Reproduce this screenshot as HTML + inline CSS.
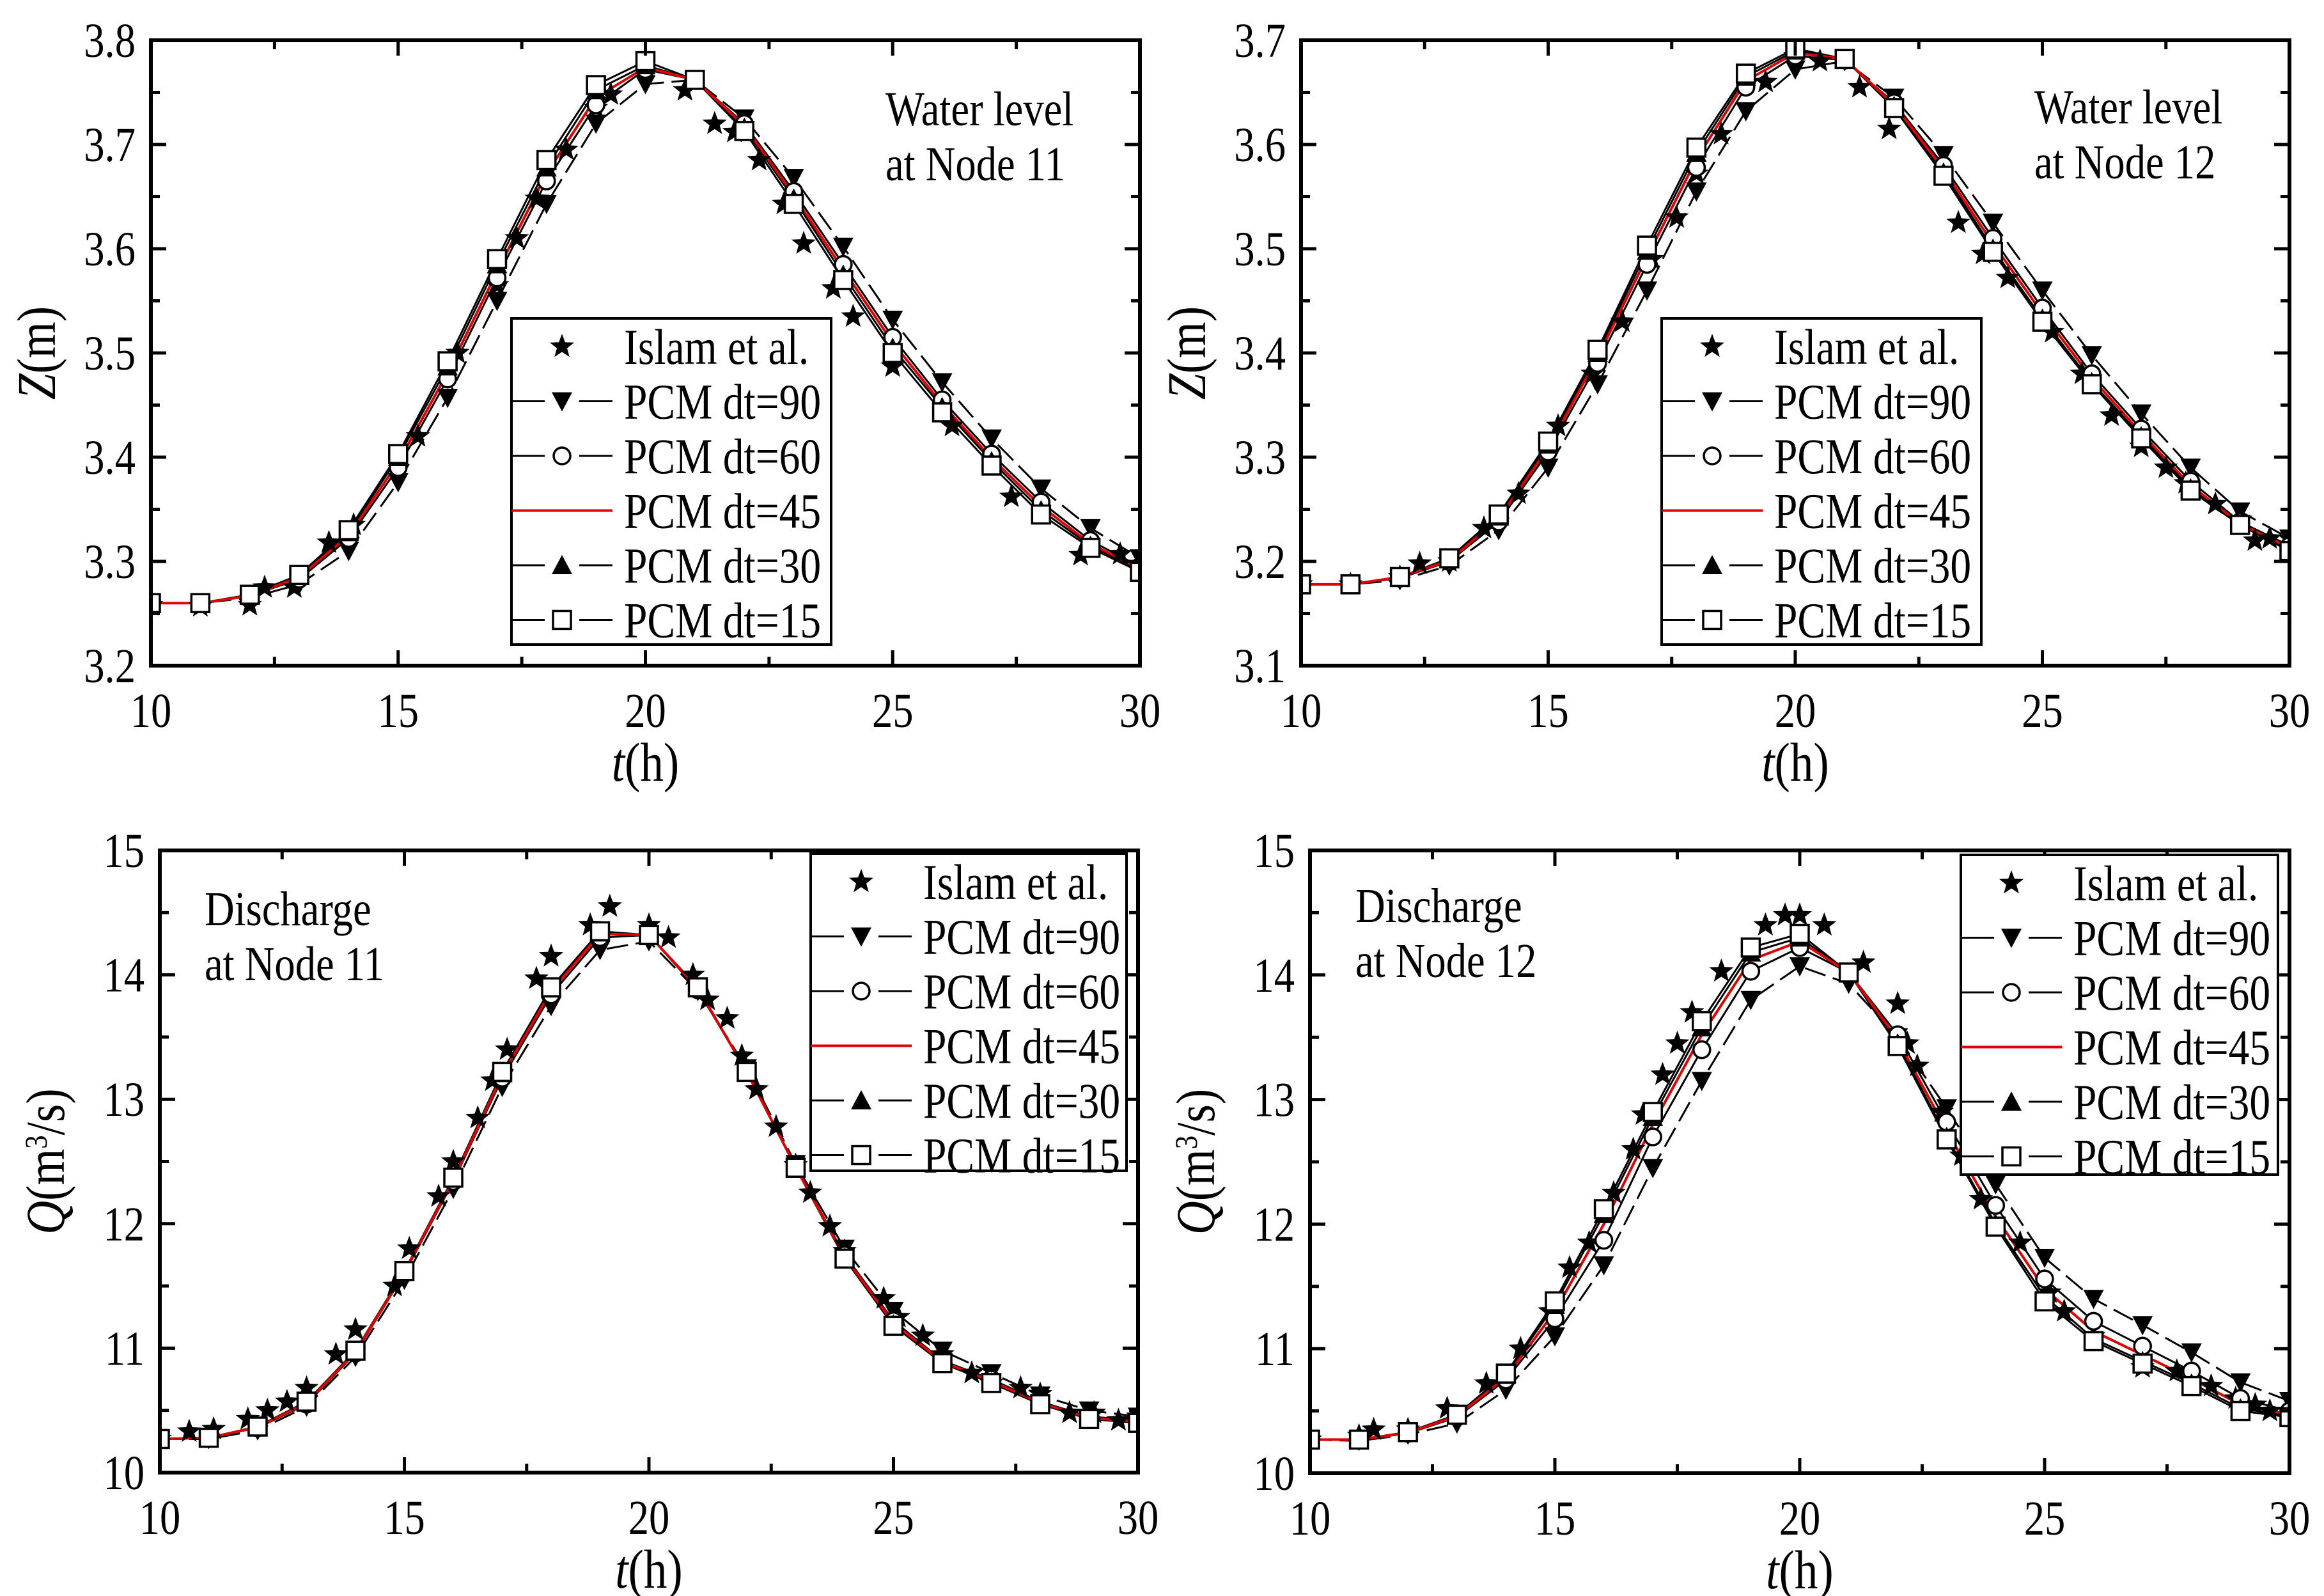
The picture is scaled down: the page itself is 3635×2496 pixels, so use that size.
<!DOCTYPE html>
<html><head><meta charset="utf-8"><style>
html,body{margin:0;padding:0;background:#fff}
svg{display:block}
text{font-family:"Liberation Serif",serif;fill:#000}
</style></head><body>
<svg id="fig" width="3635" height="2496" viewBox="0 0 3635 2496" xmlns="http://www.w3.org/2000/svg"></svg>
<script>
// ---- shared data ----
const hours = [10,11,12,13,14,15,16,17,18,19,20,21,22,23,24,25,26,27,28,29,30];
const xTicks = [10,15,20,25,30];

// Panel A: Water level Node 11
const zA_islamT = [10,11,12,12.3,12.9,13.6,14.1,15.4,16.2,17.0,17.4,17.8,18.4,19.0,19.3,20.8,21.4,21.8,22.3,22.8,23.2,23.8,24.2,25.0,26.2,27.4,28.8,29.6];
const zA_islamV = [3.258,3.257,3.258,3.275,3.275,3.318,3.335,3.42,3.50,3.565,3.61,3.648,3.695,3.735,3.748,3.752,3.72,3.712,3.685,3.643,3.605,3.562,3.535,3.487,3.43,3.362,3.306,3.307];
const zA_dt90 = [3.26,3.26,3.265,3.278,3.31,3.376,3.457,3.55,3.643,3.72,3.758,3.762,3.725,3.668,3.602,3.532,3.472,3.418,3.37,3.332,3.303];
const zA_dt60 = [3.26,3.26,3.267,3.283,3.322,3.39,3.475,3.572,3.665,3.738,3.772,3.762,3.72,3.655,3.585,3.515,3.455,3.403,3.357,3.32,3.295];
const zA_dt45 = [3.26,3.26,3.267,3.285,3.325,3.395,3.481,3.578,3.672,3.745,3.774,3.762,3.718,3.651,3.58,3.51,3.451,3.399,3.353,3.317,3.293];
const zA_dt30 = [3.26,3.26,3.268,3.286,3.328,3.4,3.487,3.585,3.678,3.752,3.776,3.762,3.716,3.648,3.575,3.505,3.448,3.396,3.349,3.315,3.292];
const zA_dt15 = [3.26,3.26,3.268,3.287,3.33,3.403,3.492,3.59,3.685,3.757,3.78,3.762,3.713,3.643,3.57,3.50,3.443,3.392,3.345,3.313,3.29];
const zA_yTicks = [3.2,3.3,3.4,3.5,3.6,3.7,3.8];

// Panel B: Water level Node 12
const zB_islamT = [10,11,12,12.4,13.0,13.7,14.4,15.2,15.9,16.5,17.1,17.6,18.0,18.5,19.4,20.0,20.5,21.3,21.9,23.3,23.8,24.3,25.2,25.8,26.4,27.0,27.5,27.9,28.5,29.0,29.3,29.6,30];
const zB_islamV = [3.178,3.178,3.185,3.198,3.2,3.232,3.265,3.33,3.38,3.43,3.49,3.53,3.572,3.61,3.66,3.685,3.68,3.655,3.615,3.525,3.495,3.472,3.42,3.38,3.34,3.31,3.29,3.275,3.255,3.24,3.22,3.222,3.222];
const zB_dt90 = [3.178,3.178,3.182,3.196,3.23,3.29,3.37,3.46,3.555,3.632,3.672,3.68,3.645,3.59,3.525,3.46,3.398,3.342,3.29,3.248,3.222];
const zB_dt60 = [3.178,3.178,3.184,3.2,3.238,3.305,3.39,3.485,3.578,3.655,3.685,3.681,3.64,3.58,3.51,3.443,3.38,3.327,3.277,3.238,3.215];
const zB_dt45 = [3.178,3.178,3.185,3.201,3.241,3.309,3.396,3.492,3.586,3.661,3.688,3.682,3.638,3.576,3.505,3.438,3.376,3.323,3.273,3.236,3.213];
const zB_dt30 = [3.178,3.178,3.185,3.202,3.243,3.312,3.4,3.498,3.592,3.665,3.69,3.682,3.637,3.573,3.5,3.433,3.372,3.32,3.27,3.235,3.212];
const zB_dt15 = [3.178,3.178,3.185,3.203,3.245,3.315,3.403,3.503,3.597,3.668,3.692,3.682,3.635,3.57,3.497,3.43,3.37,3.318,3.268,3.235,3.21];
const zB_yTicks = [3.1,3.2,3.3,3.4,3.5,3.6,3.7];

// Panel C: Discharge Node 11
const qC_islamT = [10,10.6,11.1,11.8,12.2,12.6,13.0,13.6,14.0,14.8,15.1,15.7,16.0,16.5,16.8,17.1,17.7,18.0,18.8,19.2,20.0,20.4,20.9,21.2,21.6,21.9,22.2,22.6,23.0,23.3,23.7,24.0,24.8,25.1,25.6,26.0,26.6,27.0,27.6,28.0,28.6,29.1,29.6,30];
const qC_islamV = [10.27,10.33,10.35,10.43,10.5,10.57,10.68,10.95,11.15,11.5,11.8,12.22,12.5,12.85,13.15,13.4,13.97,14.15,14.4,14.55,14.4,14.3,14.0,13.8,13.65,13.35,13.08,12.78,12.47,12.25,11.98,11.78,11.4,11.25,11.1,10.95,10.8,10.72,10.68,10.63,10.48,10.48,10.42,10.45];
const qC_dt90 = [10.27,10.27,10.34,10.53,10.93,11.55,12.28,13.1,13.75,14.2,14.27,13.87,13.25,12.48,11.8,11.3,10.98,10.8,10.62,10.5,10.45];
const qC_dt60 = [10.27,10.28,10.36,10.55,10.96,11.6,12.34,13.17,13.84,14.3,14.32,13.88,13.22,12.46,11.75,11.22,10.9,10.75,10.57,10.45,10.42];
const qC_dt45 = [10.27,10.28,10.365,10.56,10.97,11.61,12.355,13.195,13.87,14.33,14.32,13.89,13.22,12.455,11.735,11.2,10.89,10.735,10.56,10.44,10.41];
const qC_dt30 = [10.27,10.28,10.37,10.565,10.975,11.615,12.365,13.21,13.89,14.34,14.32,13.9,13.22,12.45,11.725,11.19,10.885,10.725,10.555,10.435,10.405];
const qC_dt15 = [10.27,10.28,10.37,10.57,10.98,11.62,12.37,13.22,13.9,14.35,14.32,13.9,13.22,12.45,11.72,11.18,10.88,10.72,10.55,10.43,10.4];
const qC_yTicks = [10,11,12,13,14,15];

// Panel D: Discharge Node 12
const qD_islamT = [10,11.0,11.3,12.0,12.8,13.6,14.3,14.9,15.3,15.7,16.2,16.6,16.8,17.2,17.5,17.8,18.4,19.3,19.7,20.0,20.5,21.3,22.0,22.2,22.4,22.9,23.3,23.7,24.5,25.1,25.4,26.0,27.0,27.7,28.4,28.9,29.3,29.6,30.0];
const qD_islamV = [10.27,10.3,10.35,10.35,10.52,10.72,11.0,11.3,11.65,11.85,12.25,12.6,12.88,13.2,13.45,13.7,14.03,14.4,14.48,14.48,14.4,14.1,13.77,13.45,13.27,12.9,12.55,12.2,11.85,11.45,11.3,11.1,10.85,10.82,10.7,10.6,10.55,10.5,10.5];
const qD_dt90 = [10.27,10.26,10.31,10.4,10.67,11.1,11.67,12.45,13.15,13.8,14.07,13.93,13.5,12.93,12.32,11.73,11.4,11.19,10.97,10.73,10.58];
const qD_dt60 = [10.27,10.27,10.32,10.45,10.75,11.24,11.87,12.7,13.4,14.03,14.22,14.02,13.52,12.82,12.15,11.56,11.22,11.02,10.82,10.6,10.5];
const qD_dt45 = [10.27,10.27,10.325,10.46,10.77,11.3,12.0,12.8,13.52,14.12,14.27,14.02,13.48,12.75,12.06,11.48,11.14,10.95,10.76,10.55,10.47];
const qD_dt30 = [10.27,10.27,10.33,10.47,10.79,11.35,12.08,12.86,13.58,14.18,14.3,14.02,13.45,12.7,12.0,11.42,11.08,10.9,10.72,10.52,10.46];
const qD_dt15 = [10.27,10.27,10.33,10.47,10.8,11.38,12.12,12.9,13.63,14.22,14.33,14.02,13.43,12.68,11.98,11.38,11.06,10.88,10.7,10.5,10.45];
const qD_yTicks = [10,11,12,13,14,15];

const legendLabels = ["Islam et al.","PCM dt=90","PCM dt=60","PCM dt=45","PCM dt=30","PCM dt=15"];

const NS="http://www.w3.org/2000/svg";
const svg=document.getElementById('fig');
function mk(tag,attrs,parent){const e=document.createElementNS(NS,tag);for(const k in attrs)e.setAttribute(k,attrs[k]);(parent||svg).appendChild(e);return e;}
// condensed tall text
function txt(parent,x,y,size,sx,anchor,html,rot){
  const tr=`translate(${x},${y})`+(rot?' rotate(-90)':'')+` scale(${sx},1)`;
  const t=mk('text',{x:0,y:0,'font-size':size,'text-anchor':anchor,transform:tr},parent);
  t.innerHTML=html;return t;
}

function starPts(cx,cy,R){const r=R*0.42;let p=[];for(let i=0;i<10;i++){const a=-Math.PI/2+i*Math.PI/5;const rr=i%2?r:R;p.push((cx+rr*Math.cos(a)).toFixed(1)+','+(cy+rr*Math.sin(a)).toFixed(1));}return p.join(' ');}
function marker(g,type,cx,cy){
  let e;
  if(type==='star'){e=mk('polygon',{points:starPts(cx,cy,20),fill:'#000'},g);}
  else if(type==='down'){e=mk('polygon',{points:`${cx-16},${cy-14} ${cx+16},${cy-14} ${cx},${cy+16}`,fill:'#000'},g);}
  else if(type==='up'){e=mk('polygon',{points:`${cx-16},${cy+14} ${cx+16},${cy+14} ${cx},${cy-16}`,fill:'#000'},g);}
  else if(type==='circle'){e=mk('circle',{cx:cx,cy:cy,r:13,fill:'#fff',stroke:'#000','stroke-width':3.5},g);}
  else if(type==='square'){e=mk('rect',{x:cx-14,y:cy-14,width:28,height:28,fill:'#fff',stroke:'#000','stroke-width':3.5},g);}
  return e;
}

function panel(cfg){
  const {L,R,T,B,ymin,ymax,yTicks,yMinor,islamT,islamV,series,name}=cfg;
  const g=mk('g',{});
  
  
  const X=v=>L+(v-10)/20*(R-L);
  const Y=v=>B-(v-ymin)/(ymax-ymin)*(B-T);
  const styles=[
    {d:series[0],type:'down',dash:'34,12',color:'#000',nm:'series-pcm-dt90'},
    {d:series[1],type:'circle',dash:null,color:'#000',nm:'series-pcm-dt60'},
    {d:series[3],type:'up',dash:null,color:'#000',nm:'series-pcm-dt30'},
    {d:series[4],type:'square',dash:null,color:'#000',nm:'series-pcm-dt15'},
    {d:series[2],type:null,dash:null,color:'#e00000',nm:'series-pcm-dt45'}
  ];
  styles.forEach(s=>{
    const pts=hours.map((h,i)=>X(h).toFixed(1)+','+Y(s.d[i]).toFixed(1)).join(' ');
    const a={points:pts,fill:'none',stroke:s.color,'stroke-width':s.type?3:4};
    if(s.dash)a['stroke-dasharray']=s.dash;
    const pl=mk('polyline',a,g);
    
    
  });
  islamT.forEach((t,i)=>{const m=marker(g,'star',X(t),Y(islamV[i]));
    
    });
  [styles[0],styles[1],styles[2],styles[3]].forEach(s=>{
    hours.forEach((h,i)=>{const m=marker(g,s.type,X(h),Y(s.d[i]));
      
      });
  });
  mk('rect',{x:L-60,y:T-60,width:57,height:B-T+120,fill:'#fff'},g);
  mk('rect',{x:R+3,y:T-60,width:60,height:B-T+120,fill:'#fff'},g);
  const fr=mk('rect',{x:L,y:T,width:R-L,height:B-T,fill:'none',stroke:'#000','stroke-width':6},g);
  
  
  for(let v=10;v<=30;v+=2.5){
    const maj=(v%5===0),len=maj?24:14,x=X(v);
    mk('line',{x1:x,y1:B,x2:x,y2:B-len,stroke:'#000','stroke-width':5},g);
    mk('line',{x1:x,y1:T,x2:x,y2:T+len,stroke:'#000','stroke-width':5},g);
  }
  xTicks.forEach(v=>{const t=txt(g,X(v),B+96,76,0.85,'middle',String(v));
    
    });
  for(let k=0;k<yTicks.length;k++){
    const v=yTicks[k];const y=Y(v);
    mk('line',{x1:L,y1:y,x2:L+24,y2:y,stroke:'#000','stroke-width':5},g);
    mk('line',{x1:R,y1:y,x2:R-24,y2:y,stroke:'#000','stroke-width':5},g);
    const t=txt(g,L-24,y+26,76,0.85,'end',cfg.fmt(v));
    
    
    if(k<yTicks.length-1){const ym=Y(v+yMinor);
      mk('line',{x1:L,y1:ym,x2:L+14,y2:ym,stroke:'#000','stroke-width':5},g);
      mk('line',{x1:R,y1:ym,x2:R-14,y2:ym,stroke:'#000','stroke-width':5},g);}
  }
  const xt=txt(g,(L+R)/2,B+180,86,0.85,'middle','<tspan font-style="italic">t</tspan>(h)');
  
  
  const yt=txt(g,L-150,(T+B)/2,86,0.85,'middle',cfg.ytitle,true);
  
  
  cfg.note.forEach((s,i)=>{const t=txt(g,cfg.noteX,cfg.noteY+i*86,76,0.85,'start',s);
    
    });
  const lg=mk('g',{},g);
  
  
  const lx=cfg.legX,ly=cfg.legY,lw=cfg.legW,lh=cfg.legH;
  mk('rect',{x:lx,y:ly,width:lw,height:lh,fill:'#fff',stroke:'#000','stroke-width':4},lg);
  const types=['star','down','circle',null,'up','square'];
  for(let i=0;i<6;i++){
    const cy=ly+44+i*85.5;
    const e=mk('g',{},lg);
    
    
    if(i===3){mk('line',{x1:lx,y1:cy,x2:lx+158,y2:cy,stroke:'#e00000','stroke-width':4},e);}
    else if(i>0){mk('line',{x1:lx,y1:cy,x2:lx+52,y2:cy,stroke:'#000','stroke-width':3},e);
      mk('line',{x1:lx+106,y1:cy,x2:lx+158,y2:cy,stroke:'#000','stroke-width':3},e);}
    if(types[i])marker(e,types[i],lx+79,cy);
    txt(e,lx+176,cy+27,78,0.84,'start',legendLabels[i]);
  }
}

panel({name:'panel-water-level-node11',L:236,R:1783,T:63,B:1041,ymin:3.2,ymax:3.8,yTicks:zA_yTicks,yMinor:0.05,
  islamT:zA_islamT,islamV:zA_islamV,series:[zA_dt90,zA_dt60,zA_dt45,zA_dt30,zA_dt15],fmt:v=>v.toFixed(1),
  ytitle:'<tspan font-style="italic">Z</tspan>(m)',note:['Water level','at Node 11'],noteX:1385,noteY:196,noteAnchor:'start',
  legX:800,legY:498,legW:500,legH:510});
panel({name:'panel-water-level-node12',L:2035,R:3581,T:63,B:1041,ymin:3.1,ymax:3.7,yTicks:zB_yTicks,yMinor:0.05,
  islamT:zB_islamT,islamV:zB_islamV,series:[zB_dt90,zB_dt60,zB_dt45,zB_dt30,zB_dt15],fmt:v=>v.toFixed(1),
  ytitle:'<tspan font-style="italic">Z</tspan>(m)',note:['Water level','at Node 12'],noteX:3182,noteY:193,noteAnchor:'start',
  legX:2599,legY:498,legW:500,legH:510});
panel({name:'panel-discharge-node11',L:250,R:1780,T:1330,B:2303,ymin:10,ymax:15,yTicks:qC_yTicks,yMinor:0.5,
  islamT:qC_islamT,islamV:qC_islamV,series:[qC_dt90,qC_dt60,qC_dt45,qC_dt30,qC_dt15],fmt:v=>String(v),
  ytitle:'<tspan font-style="italic">Q</tspan>(m<tspan baseline-shift="super" font-size="50">3</tspan>/s)',note:['Discharge','at Node 11'],noteX:320,noteY:1447,noteAnchor:'start',
  legX:1268,legY:1335,legW:494,legH:496});
panel({name:'panel-discharge-node12',L:2049,R:3581,T:1330,B:2304,ymin:10,ymax:15,yTicks:qD_yTicks,yMinor:0.5,
  islamT:qD_islamT,islamV:qD_islamV,series:[qD_dt90,qD_dt60,qD_dt45,qD_dt30,qD_dt15],fmt:v=>String(v),
  ytitle:'<tspan font-style="italic">Q</tspan>(m<tspan baseline-shift="super" font-size="50">3</tspan>/s)',note:['Discharge','at Node 12'],noteX:2120,noteY:1442,noteAnchor:'start',
  legX:3067,legY:1337,legW:496,legH:500});
</script>
</body></html>
